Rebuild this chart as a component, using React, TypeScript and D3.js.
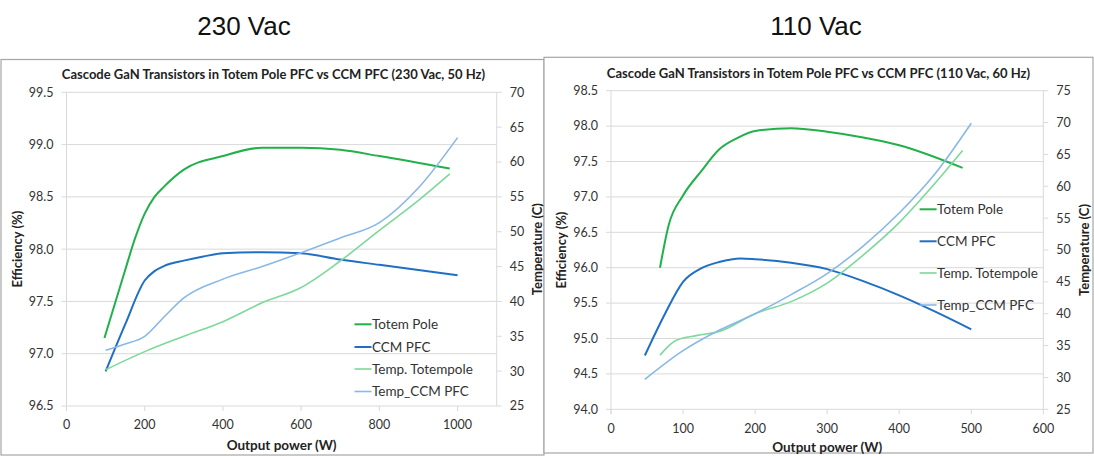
import * as d3 from 'd3';

// 230 Vac, 50 Hz
const totem230X = [97, 150, 175, 200, 225, 250, 300, 400, 500, 600, 700, 800, 980];
const totem230Eff = [97.15, 97.8, 98.1, 98.34, 98.5, 98.6, 98.76, 98.89, 98.97, 98.97, 98.95, 98.89, 98.77];
const ccm230X = [100, 150, 200, 225, 250, 300, 350, 400, 500, 600, 700, 800, 1000];
const ccm230Eff = [96.83, 97.28, 97.7, 97.79, 97.84, 97.89, 97.93, 97.96, 97.97, 97.96, 97.9, 97.85, 97.75];
const tempTotem230X = [100, 200, 300, 400, 500, 600, 700, 800, 900, 980];
const tempTotem230 = [30.2, 32.8, 35, 37.1, 39.8, 42, 45.8, 50.2, 54.5, 58.3];
const tempCcm230X = [100, 150, 200, 250, 300, 400, 500, 600, 700, 800, 900, 1000];
const tempCcm230 = [33, 33.9, 35, 37.8, 40.5, 43.2, 45, 47, 49.1, 51.3, 56.3, 63.5];

// 110 Vac, 60 Hz
const totem110X = [68, 80, 100, 125, 150, 175, 200, 250, 300, 350, 400, 488];
const totem110Eff = [96.0, 96.6, 97.02, 97.36, 97.67, 97.83, 97.93, 97.97, 97.92, 97.84, 97.73, 97.41];
const ccm110X = [47, 75, 100, 125, 150, 180, 200, 250, 300, 350, 400, 450, 500];
const ccm110Eff = [94.76, 95.35, 95.8, 95.99, 96.08, 96.13, 96.12, 96.07, 95.98, 95.81, 95.61, 95.38, 95.13];
const tempTotem110X = [68, 90, 120, 150, 200, 250, 300, 350, 400, 450, 488];
const tempTotem110 = [33.5, 35.8, 36.6, 37.2, 40, 41.9, 44.8, 49.2, 54.3, 60.5, 65.6];
const tempCcm110X = [47, 100, 150, 200, 250, 300, 350, 400, 450, 500];
const tempCcm110 = [29.7, 34.2, 37.4, 40, 43, 46.3, 50.6, 55.8, 62, 69.9];

const seriesNames = ['Totem Pole', 'CCM PFC', 'Temp. Totempole', 'Temp_CCM PFC'];
const seriesColors = ['#22b04b', '#1f6fc4', '#7dd89a', '#88b8e6'];
const seriesWidths = [2, 2, 1.6, 1.6];

const FONT = 'Lato, "Open Sans", sans-serif';
const GRID = '#d9d9d9';

interface Series {
  xs: number[];
  ys: number[];
  right: boolean;
}

interface PanelProps {
  heading: string;
  headingX: number;
  title: string;
  titleX: number;
  titleY: number;
  box: { x0: number; y0: number; x1: number; y1: number };
  plot: { x0: number; y0: number; x1: number; y1: number };
  xDomain: [number, number];
  xTicks: number[];
  effDomain: [number, number];
  effTicks: number[];
  tempDomain: [number, number];
  tempTicks: number[];
  series: Series[];
  legend: { x: number; ys: number[] };
  xLabelY: number;
  effLabelX: number;
  tempLabelX: number;
  axisTitleY: number;
}

function Panel(p: PanelProps) {
  const x = d3.scaleLinear().domain(p.xDomain).range([p.plot.x0, p.plot.x1]);
  const yL = d3.scaleLinear().domain(p.effDomain).range([p.plot.y1, p.plot.y0]);
  const yR = d3.scaleLinear().domain(p.tempDomain).range([p.plot.y1, p.plot.y0]);
  const midY = (p.plot.y0 + p.plot.y1) / 2;
  const midX = (p.plot.x0 + p.plot.x1) / 2;

  return (
    <g>
      <text x={p.headingX} y={35} textAnchor="middle" fontFamily='"Liberation Sans", Arial, sans-serif' fontSize={26} fill="#111">
        {p.heading}
      </text>
      <rect
        x={p.box.x0}
        y={p.box.y0}
        width={p.box.x1 - p.box.x0}
        height={p.box.y1 - p.box.y0}
        fill="white"
        stroke="#a6a6a6"
        strokeWidth={1.2}
      />
      <text x={p.titleX} y={p.titleY} textAnchor="middle" fontFamily={FONT} fontWeight="bold" fontSize={13} fill="#222">
        {p.title}
      </text>

      {/* gridlines + left ticks */}
      {p.effTicks.map((t) => (
        <g key={'g' + t}>
          <line x1={p.plot.x0 - 5} x2={p.plot.x1} y1={yL(t)} y2={yL(t)} stroke={GRID} />
          <text x={p.plot.x0 - 13} y={yL(t)} dy="0.35em" textAnchor="end" fontFamily={FONT} fontSize={12.5} fill="#333">
            {t.toFixed(1)}
          </text>
        </g>
      ))}
      {/* vertical axes */}
      <line x1={p.plot.x0} x2={p.plot.x0} y1={p.plot.y0} y2={p.plot.y1 + 5} stroke={GRID} />
      <line x1={p.plot.x1} x2={p.plot.x1} y1={p.plot.y0} y2={p.plot.y1} stroke={GRID} />
      {/* right ticks */}
      {p.tempTicks.map((t) => (
        <g key={'r' + t}>
          <line x1={p.plot.x1} x2={p.plot.x1 + 5} y1={yR(t)} y2={yR(t)} stroke={GRID} />
          <text x={p.plot.x1 + 13} y={yR(t)} dy="0.35em" textAnchor="start" fontFamily={FONT} fontSize={12.5} fill="#333">
            {t}
          </text>
        </g>
      ))}
      {/* x ticks */}
      {p.xTicks.map((t) => (
        <g key={'x' + t}>
          <line x1={x(t)} x2={x(t)} y1={p.plot.y1} y2={p.plot.y1 + 5} stroke={GRID} />
          <text x={x(t)} y={p.xLabelY} dy="0.35em" textAnchor="middle" fontFamily={FONT} fontSize={12.5} fill="#333">
            {t}
          </text>
        </g>
      ))}

      {/* series */}
      {p.series.map((s, i) => {
        const yy = s.right ? yR : yL;
        const pts = s.xs.map((v, k) => [v, s.ys[k]] as [number, number]);
        const line = d3
          .line<[number, number]>()
          .x((d) => x(d[0]))
          .y((d) => yy(d[1]))
          .curve(d3.curveMonotoneX);
        return (
          <path key={'s' + i} d={line(pts) || ''} fill="none" stroke={seriesColors[i]} strokeWidth={seriesWidths[i]} />
        );
      })}

      {/* legend */}
      {seriesNames.map((n, i) => (
        <g key={'l' + i}>
          <line
            x1={p.legend.x}
            x2={p.legend.x + 17}
            y1={p.legend.ys[i]}
            y2={p.legend.ys[i]}
            stroke={seriesColors[i]}
            strokeWidth={seriesWidths[i]}
          />
          <text x={p.legend.x + 17.5} y={p.legend.ys[i]} dy="0.35em" fontFamily={FONT} fontSize={13.5} fill="#333">
            {n}
          </text>
        </g>
      ))}

      {/* axis titles */}
      <text x={midX} y={p.axisTitleY} dy="0.35em" textAnchor="middle" fontFamily={FONT} fontWeight="bold" fontSize={13.5} fill="#222">
        Output power (W)
      </text>
      <text
        transform={`translate(${p.effLabelX},${midY}) rotate(-90)`}
        dy="0.35em"
        textAnchor="middle"
        fontFamily={FONT}
        fontWeight="bold"
        fontSize={13}
        fill="#222"
      >
        Efficiency (%)
      </text>
      <text
        transform={`translate(${p.tempLabelX},${midY}) rotate(-90)`}
        dy="0.35em"
        textAnchor="middle"
        fontFamily={FONT}
        fontWeight="bold"
        fontSize={13}
        fill="#222"
      >
        Temperature (C)
      </text>
    </g>
  );
}

export default function App() {
  return (
    <svg width={1094} height={456} style={{ position: 'absolute', left: 0, top: 0, background: 'white' }}>
      <Panel
        heading="230 Vac"
        headingX={244}
        title="Cascode GaN Transistors in Totem Pole PFC vs CCM PFC (230 Vac, 50 Hz)"
        titleX={273.5}
        titleY={79}
        box={{ x0: 1, y0: 59.5, x1: 544, y1: 455 }}
        plot={{ x0: 66.5, y0: 92.3, x1: 496.7, y1: 406 }}
        xDomain={[0, 1100]}
        xTicks={[0, 200, 400, 600, 800, 1000]}
        effDomain={[96.5, 99.5]}
        effTicks={d3.range(96.5, 99.51, 0.5)}
        tempDomain={[25, 70]}
        tempTicks={d3.range(25, 71, 5)}
        series={[
          { xs: totem230X, ys: totem230Eff, right: false },
          { xs: ccm230X, ys: ccm230Eff, right: false },
          { xs: tempTotem230X, ys: tempTotem230, right: true },
          { xs: tempCcm230X, ys: tempCcm230, right: true },
        ]}
        legend={{ x: 354.5, ys: [324.3, 347, 369, 391.5] }}
        xLabelY={425}
        effLabelX={17.5}
        tempLabelX={537}
        axisTitleY={445}
      />
      <Panel
        heading="110 Vac"
        headingX={816}
        title="Cascode GaN Transistors in Totem Pole PFC vs CCM PFC (110 Vac, 60 Hz)"
        titleX={818.5}
        titleY={77.5}
        box={{ x0: 544, y0: 57.3, x1: 1093, y1: 453 }}
        plot={{ x0: 611, y0: 90.7, x1: 1043.3, y1: 409.3 }}
        xDomain={[0, 600]}
        xTicks={[0, 100, 200, 300, 400, 500, 600]}
        effDomain={[94, 98.5]}
        effTicks={d3.range(94, 98.51, 0.5)}
        tempDomain={[25, 75]}
        tempTicks={d3.range(25, 76, 5)}
        series={[
          { xs: totem110X, ys: totem110Eff, right: false },
          { xs: ccm110X, ys: ccm110Eff, right: false },
          { xs: tempTotem110X, ys: tempTotem110, right: true },
          { xs: tempCcm110X, ys: tempCcm110, right: true },
        ]}
        legend={{ x: 919.6, ys: [209.3, 241.3, 273, 305] }}
        xLabelY={428.3}
        effLabelX={561.8}
        tempLabelX={1084}
        axisTitleY={447}
      />
    </svg>
  );
}
